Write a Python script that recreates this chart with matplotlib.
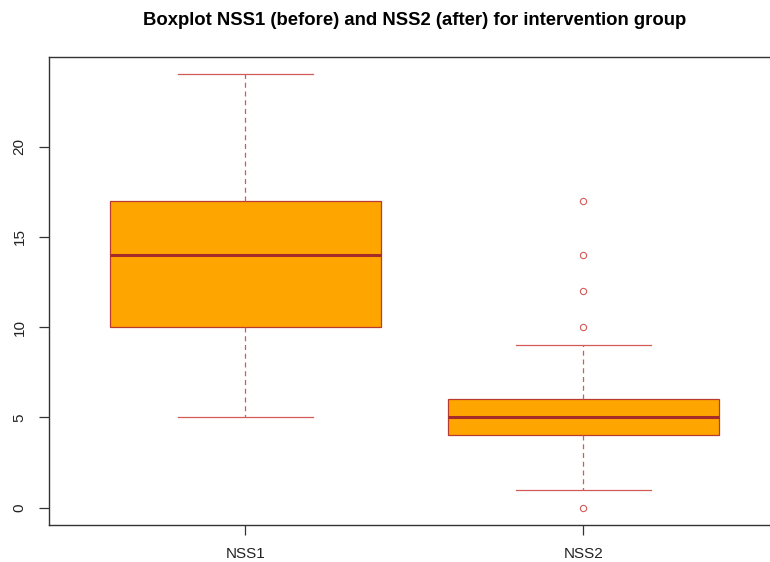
import matplotlib
matplotlib.use("Agg")
import matplotlib.pyplot as plt

plt.rcParams['font.family'] = ['Liberation Sans', 'DejaVu Sans']

labels = ["NSS1", "NSS2"]
whisk_lo = [5, 1]
q1 = [10, 4]
median = [14, 5]
q3 = [17, 6]
whisk_hi = [24, 9]
fliers = [[], [0, 10, 12, 14, 17]]
yticks = [0, 5, 10, 15, 20]

stats = []
for i in range(len(labels)):
    stats.append({"label": labels[i], "whislo": whisk_lo[i], "q1": q1[i], "med": median[i],
                  "q3": q3[i], "whishi": whisk_hi[i], "fliers": fliers[i]})

border = "#C8423C"
fig = plt.figure(figsize=(7.7, 5.62), dpi=100)
ax = fig.add_axes([0.0636, 0.0658, 0.949, 0.8328])

ax.bxp(stats, positions=[1, 2], widths=0.8, patch_artist=True,
       boxprops=dict(facecolor="orange", edgecolor="#B83A30", linewidth=0.9),
       medianprops=dict(color="#A52A2A", linewidth=2.2, solid_capstyle="butt"),
       whiskerprops=dict(color="#D45A5A", linewidth=0.9, linestyle=(0, (4, 3))),
       capprops=dict(color="#D45A5A", linewidth=0.9),
       capwidths=0.4,
       flierprops=dict(marker="o", markersize=4.5, markerfacecolor="none",
                       markeredgecolor="#D45A5A", markeredgewidth=0.8, linestyle="none"))

ax.set_xlim(0.42, 2.58)
ax.set_ylim(-0.96, 24.96)
ax.set_yticks(yticks)
ax.set_yticklabels([str(v) for v in yticks], rotation=90, va="center")
ax.set_xticks([1, 2])
ax.set_xticklabels(labels)
ax.tick_params(axis="both", direction="out", length=7, width=0.9, color="#333333",
               labelsize=11, labelcolor="#222222")
ax.tick_params(axis="y", pad=9)
ax.tick_params(axis="x", pad=9)
for s in ax.spines.values():
    s.set_color("#333333")
    s.set_linewidth(1.0)

fig.text(0.538, 0.955, "Boxplot NSS1 (before) and NSS2 (after) for intervention group",
         ha="center", va="baseline", fontsize=13.3, fontweight="bold")

fig.savefig("out.png", dpi=100)
